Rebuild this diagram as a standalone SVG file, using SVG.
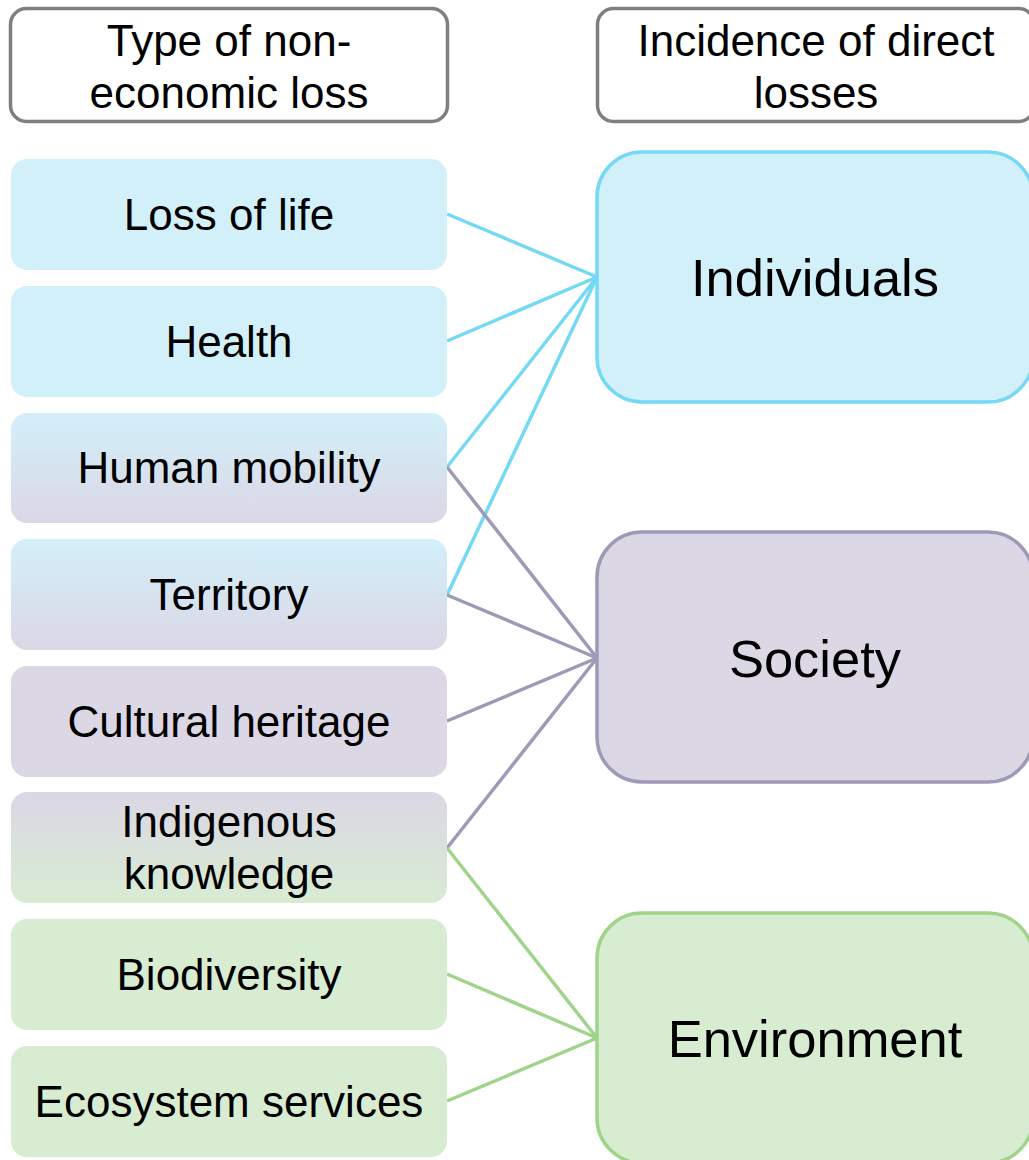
<svg xmlns="http://www.w3.org/2000/svg" width="1029" height="1160" viewBox="0 0 1029 1160">
<style>
text{font-family:"Liberation Sans",Arial,sans-serif;fill:#000;text-anchor:middle}
.t{font-size:44px}
.b{font-size:52.5px}
.hdr{fill:#fff;stroke:#7f7f7f;stroke-width:3.5}
.lb{stroke:none}
.cb{stroke:#75d9f5;stroke-width:3.5;fill:none}
.cp{stroke:#9f99b8;stroke-width:3.5;fill:none}
.cg{stroke:#9fd48a;stroke-width:3.5;fill:none}
</style>
<defs>
<linearGradient id="gBP" x1="0" y1="0" x2="0" y2="1"><stop offset="0" stop-color="#d2f0fa"/><stop offset="1" stop-color="#dbd7e5"/></linearGradient>
<linearGradient id="gPG" x1="0" y1="0" x2="0" y2="1"><stop offset="0" stop-color="#dbd7e5"/><stop offset="1" stop-color="#d8ecd2"/></linearGradient>
</defs>
<g id="hdr-left"><rect class="hdr" x="10.5" y="8.5" width="437" height="113" rx="16"/><text class="t" x="229" y="56">Type of non-</text><text class="t" x="229" y="108">economic loss</text></g>
<g id="hdr-right"><rect class="hdr" x="597.5" y="8.5" width="437" height="113" rx="16"/><text class="t" x="816" y="56">Incidence of direct</text><text class="t" x="816" y="108">losses</text></g>
<g id="connectors">
<line class="cb" x1="447" y1="214" x2="597" y2="277"/>
<line class="cb" x1="447" y1="341" x2="597" y2="277"/>
<line class="cb" x1="447" y1="467" x2="597" y2="277"/>
<line class="cb" x1="447" y1="595" x2="597" y2="277"/>
<line class="cp" x1="447" y1="467" x2="597" y2="658"/>
<line class="cp" x1="447" y1="595" x2="597" y2="658"/>
<line class="cp" x1="447" y1="721" x2="597" y2="658"/>
<line class="cp" x1="447" y1="848" x2="597" y2="658"/>
<line class="cg" x1="447" y1="848" x2="597" y2="1038"/>
<line class="cg" x1="447" y1="974" x2="597" y2="1038"/>
<line class="cg" x1="447" y1="1101" x2="597" y2="1038"/>
</g>
<g id="n-life"><rect class="lb" x="11" y="159" width="436" height="111" rx="16" fill="#d2f0fa"/><text class="t" x="229" y="230">Loss of life</text></g>
<g id="n-health"><rect class="lb" x="11" y="286" width="436" height="111" rx="16" fill="#d2f0fa"/><text class="t" x="229" y="357">Health</text></g>
<g id="n-mobility"><rect class="lb" x="11" y="413" width="436" height="110" rx="16" fill="url(#gBP)"/><text class="t" x="229" y="483">Human mobility</text></g>
<g id="n-territory"><rect class="lb" x="11" y="539" width="436" height="111" rx="16" fill="url(#gBP)"/><text class="t" x="229" y="610">Territory</text></g>
<g id="n-cultural"><rect class="lb" x="11" y="666" width="436" height="111" rx="16" fill="#dbd7e5"/><text class="t" x="229" y="737">Cultural heritage</text></g>
<g id="n-indigenous"><rect class="lb" x="11" y="792" width="436" height="111" rx="16" fill="url(#gPG)"/><text class="t" x="229" y="837">Indigenous</text><text class="t" x="229" y="889">knowledge</text></g>
<g id="n-biodiversity"><rect class="lb" x="11" y="919" width="436" height="111" rx="16" fill="#d8ecd2"/><text class="t" x="229" y="990">Biodiversity</text></g>
<g id="n-ecosystem"><rect class="lb" x="11" y="1046" width="436" height="111" rx="16" fill="#d8ecd2"/><text class="t" x="229" y="1117">Ecosystem services</text></g>
<g id="n-individuals"><rect x="597" y="152" width="436" height="250" rx="45" fill="#d2f0fa" stroke="#75d9f5" stroke-width="3.5"/><text class="b" x="815" y="296">Individuals</text></g>
<g id="n-society"><rect x="597" y="532" width="436" height="250" rx="45" fill="#dbd7e5" stroke="#9f99b8" stroke-width="3.5"/><text class="b" x="815" y="677">Society</text></g>
<g id="n-environment"><rect x="597" y="913" width="436" height="250" rx="45" fill="#d8ecd2" stroke="#9fd48a" stroke-width="3.5"/><text class="b" x="815" y="1057">Environment</text></g>
</svg>
